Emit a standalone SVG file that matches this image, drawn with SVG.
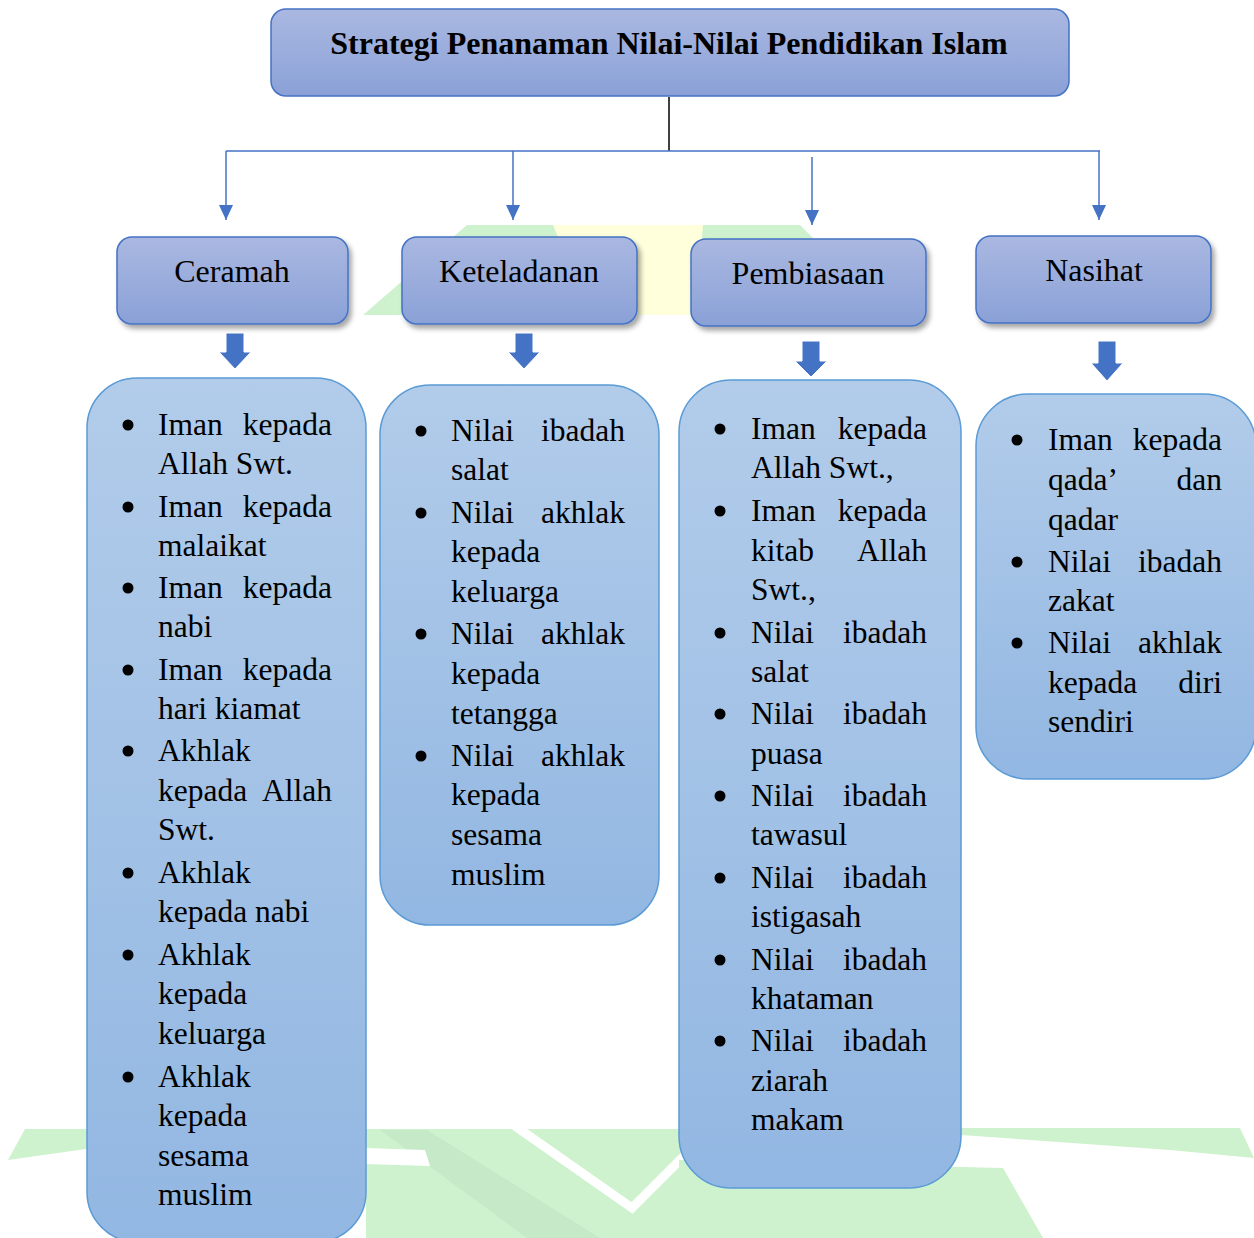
<svg xmlns="http://www.w3.org/2000/svg" width="1254" height="1238" viewBox="0 0 1254 1238">
<defs>
<style>
.title{font-family:"Liberation Serif","Times New Roman",serif;font-weight:bold;font-size:32px;fill:#000;text-anchor:middle}
.h{font-family:"Liberation Serif","Times New Roman",serif;font-size:32px;fill:#000;text-anchor:middle}
.l{font-family:"Liberation Serif","Times New Roman",serif;font-size:31.5px;fill:#000}
.r{text-anchor:end}
.head{fill:url(#gHead);stroke:#4472C4;stroke-width:1.5}
.list{fill:url(#gList);stroke:#5B9BD5;stroke-width:1.5}
.conn{fill:none;stroke:#4472C4;stroke-width:1.5}
.blk{fill:#4472C4;stroke:#fff;stroke-width:1}
.wm{fill:#CEF2CE}
.wm2{fill:#C6E9C8}
.wy{fill:#FFFFDC}
</style>
<linearGradient id="gHead" x1="0" y1="0" x2="0" y2="1"><stop offset="0" stop-color="#AAB8E1"/><stop offset="1" stop-color="#8AA1D7"/></linearGradient>
<linearGradient id="gList" x1="0" y1="0" x2="0" y2="1"><stop offset="0" stop-color="#B2CCEA"/><stop offset="1" stop-color="#92B7E2"/></linearGradient>
<filter id="shadow" x="-10%" y="-10%" width="130%" height="140%"><feDropShadow dx="3" dy="4" stdDeviation="2.5" flood-color="#000" flood-opacity="0.35"/></filter>
<marker id="arr" viewBox="0 0 15 14" refX="15" refY="7" markerWidth="15" markerHeight="14" markerUnits="userSpaceOnUse" orient="auto"><path d="M0,0 L15,7 L0,14 z" fill="#4472C4"/></marker>
</defs>
<rect width="1254" height="1238" fill="#fff"/>
<g id="watermark">
<polygon class="wm" points="363,315 467,225 800,225 815,240 815,315"/>
<polygon class="wy" points="553,225 703,225 695,315 590,315"/>
<polygon class="wm" points="25,1129 100,1129 100,1147 8,1160"/>
<rect class="wm" x="366" y="1129" width="320" height="109"/>
<polygon class="wm2" points="380,1130 427,1130 600,1238 527,1238"/>
<polygon fill="#fff" points="366,1148 425,1150 430,1166 366,1164"/>
<polyline points="515,1126 632,1208 700,1140" fill="none" stroke="#fff" stroke-width="9"/>
<polygon class="wm" points="679,1160 1003,1168 1043,1238 679,1238"/>
<polygon class="wm" points="961,1128 1240,1128 1254,1158 1170,1150 961,1135"/>
</g>
<g id="connectors">
<line x1="669" y1="97" x2="669" y2="151" stroke="#000" stroke-width="1.5"/>
<line class="conn" x1="226" y1="151" x2="1100" y2="151"/>
<line class="conn" x1="226" y1="151" x2="226" y2="220" marker-end="url(#arr)"/>
<line class="conn" x1="513" y1="151" x2="513" y2="220" marker-end="url(#arr)"/>
<line class="conn" x1="812" y1="157" x2="812" y2="225" marker-end="url(#arr)"/>
<line class="conn" x1="1099" y1="151" x2="1099" y2="220" marker-end="url(#arr)"/>
<path class="blk" d="M226,333 H244 V352 H251 L235,369 L219,352 H226 Z"/>
<path class="blk" d="M515,333 H533 V352 H540 L524,369 L508,352 H515 Z"/>
<path class="blk" d="M802,341 H820 V361 H827 L811,377 L795,361 H802 Z"/>
<path class="blk" d="M1098,341 H1116 V363 H1123 L1107,381 L1091,363 H1098 Z"/>
</g>
<g id="title">
<rect x="271" y="9" width="798" height="87" rx="15" class="head"/>
<text x="669" y="54" class="title">Strategi Penanaman Nilai-Nilai Pendidikan Islam</text>
</g>
<g id="ceramah">
<rect x="117" y="237" width="231" height="87" rx="15" class="head" filter="url(#shadow)"/>
<text x="232" y="282" class="h">Ceramah</text>
</g>
<g id="keteladanan">
<rect x="402" y="237" width="235" height="87" rx="15" class="head" filter="url(#shadow)"/>
<text x="519" y="282" class="h">Keteladanan</text>
</g>
<g id="pembiasaan">
<rect x="691" y="239" width="235" height="87" rx="15" class="head" filter="url(#shadow)"/>
<text x="808" y="284" class="h">Pembiasaan</text>
</g>
<g id="nasihat">
<rect x="976" y="236" width="235" height="87" rx="15" class="head" filter="url(#shadow)"/>
<text x="1094" y="281" class="h">Nasihat</text>
</g>
<g id="ceramah-list">
<rect x="87" y="378" width="279" height="864" rx="50" class="list"/>
<g fill="#000"><circle cx="128" cy="425" r="5.5"/><circle cx="128" cy="507" r="5.5"/><circle cx="128" cy="588" r="5.5"/><circle cx="128" cy="670" r="5.5"/><circle cx="128" cy="751" r="5.5"/><circle cx="128" cy="873" r="5.5"/><circle cx="128" cy="955" r="5.5"/><circle cx="128" cy="1077" r="5.5"/></g>
<text class="l" x="158" y="435">Iman</text><text class="l r" x="332" y="435">kepada</text>
<text class="l" x="158" y="474">Allah Swt.</text>
<text class="l" x="158" y="517">Iman</text><text class="l r" x="332" y="517">kepada</text>
<text class="l" x="158" y="556">malaikat</text>
<text class="l" x="158" y="598">Iman</text><text class="l r" x="332" y="598">kepada</text>
<text class="l" x="158" y="637">nabi</text>
<text class="l" x="158" y="680">Iman</text><text class="l r" x="332" y="680">kepada</text>
<text class="l" x="158" y="719">hari kiamat</text>
<text class="l" x="158" y="761">Akhlak</text>
<text class="l" x="158" y="801">kepada</text><text class="l r" x="332" y="801">Allah</text>
<text class="l" x="158" y="840">Swt.</text>
<text class="l" x="158" y="883">Akhlak</text>
<text class="l" x="158" y="922">kepada nabi</text>
<text class="l" x="158" y="965">Akhlak</text>
<text class="l" x="158" y="1004">kepada</text>
<text class="l" x="158" y="1044">keluarga</text>
<text class="l" x="158" y="1087">Akhlak</text>
<text class="l" x="158" y="1126">kepada</text>
<text class="l" x="158" y="1166">sesama</text>
<text class="l" x="158" y="1205">muslim</text>
</g>
<g id="keteladanan-list">
<rect x="380" y="385" width="279" height="540" rx="50" class="list"/>
<g fill="#000"><circle cx="421" cy="431" r="5.5"/><circle cx="421" cy="513" r="5.5"/><circle cx="421" cy="634" r="5.5"/><circle cx="421" cy="756" r="5.5"/></g>
<text class="l" x="451" y="441">Nilai</text><text class="l r" x="625" y="441">ibadah</text>
<text class="l" x="451" y="480">salat</text>
<text class="l" x="451" y="523">Nilai</text><text class="l r" x="625" y="523">akhlak</text>
<text class="l" x="451" y="562">kepada</text>
<text class="l" x="451" y="602">keluarga</text>
<text class="l" x="451" y="644">Nilai</text><text class="l r" x="625" y="644">akhlak</text>
<text class="l" x="451" y="684">kepada</text>
<text class="l" x="451" y="724">tetangga</text>
<text class="l" x="451" y="766">Nilai</text><text class="l r" x="625" y="766">akhlak</text>
<text class="l" x="451" y="805">kepada</text>
<text class="l" x="451" y="845">sesama</text>
<text class="l" x="451" y="885">muslim</text>
</g>
<g id="pembiasaan-list">
<rect x="679" y="380" width="282" height="808" rx="52" class="list"/>
<g fill="#000"><circle cx="720" cy="429" r="5.5"/><circle cx="720" cy="511" r="5.5"/><circle cx="720" cy="633" r="5.5"/><circle cx="720" cy="714" r="5.5"/><circle cx="720" cy="796" r="5.5"/><circle cx="720" cy="878" r="5.5"/><circle cx="720" cy="960" r="5.5"/><circle cx="720" cy="1041" r="5.5"/></g>
<text class="l" x="751" y="439">Iman</text><text class="l r" x="927" y="439">kepada</text>
<text class="l" x="751" y="478">Allah Swt.,</text>
<text class="l" x="751" y="521">Iman</text><text class="l r" x="927" y="521">kepada</text>
<text class="l" x="751" y="561">kitab</text><text class="l r" x="927" y="561">Allah</text>
<text class="l" x="751" y="600">Swt.,</text>
<text class="l" x="751" y="643">Nilai</text><text class="l r" x="927" y="643">ibadah</text>
<text class="l" x="751" y="682">salat</text>
<text class="l" x="751" y="724">Nilai</text><text class="l r" x="927" y="724">ibadah</text>
<text class="l" x="751" y="764">puasa</text>
<text class="l" x="751" y="806">Nilai</text><text class="l r" x="927" y="806">ibadah</text>
<text class="l" x="751" y="845">tawasul</text>
<text class="l" x="751" y="888">Nilai</text><text class="l r" x="927" y="888">ibadah</text>
<text class="l" x="751" y="927">istigasah</text>
<text class="l" x="751" y="970">Nilai</text><text class="l r" x="927" y="970">ibadah</text>
<text class="l" x="751" y="1009">khataman</text>
<text class="l" x="751" y="1051">Nilai</text><text class="l r" x="927" y="1051">ibadah</text>
<text class="l" x="751" y="1091">ziarah</text>
<text class="l" x="751" y="1130">makam</text>
</g>
<g id="nasihat-list">
<rect x="976" y="394" width="280" height="385" rx="52" class="list"/>
<g fill="#000"><circle cx="1017" cy="440" r="5.5"/><circle cx="1017" cy="562" r="5.5"/><circle cx="1017" cy="643" r="5.5"/></g>
<text class="l" x="1048" y="450">Iman</text><text class="l r" x="1222" y="450">kepada</text>
<text class="l" x="1048" y="490">qada’</text><text class="l r" x="1222" y="490">dan</text>
<text class="l" x="1048" y="530">qadar</text>
<text class="l" x="1048" y="572">Nilai</text><text class="l r" x="1222" y="572">ibadah</text>
<text class="l" x="1048" y="611">zakat</text>
<text class="l" x="1048" y="653">Nilai</text><text class="l r" x="1222" y="653">akhlak</text>
<text class="l" x="1048" y="693">kepada</text><text class="l r" x="1222" y="693">diri</text>
<text class="l" x="1048" y="732">sendiri</text>
</g>
</svg>
